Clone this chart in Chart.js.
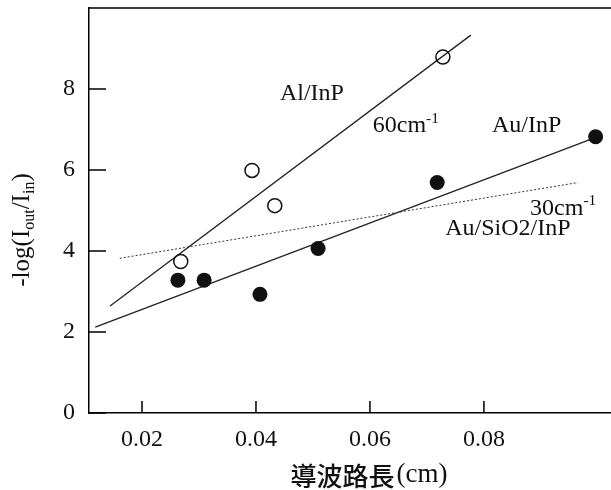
<!DOCTYPE html>
<html>
<head>
<meta charset="utf-8">
<script src="https://cdn.jsdelivr.net/npm/chart.js@4.4.0/dist/chart.umd.min.js"></script>
<style>
html, body { margin: 0; padding: 0; background: #fff; }
</style>
</head>
<body>
<canvas id="chart" width="611" height="490"></canvas>
<script>
// waveguide length (cm) vs -log(Iout/Iin)
var alLength = [0.0268, 0.0393, 0.0433, 0.0728];
var alLoss = [3.74, 5.99, 5.12, 8.79];
var auLength = [0.0263, 0.0309, 0.0407, 0.0509, 0.0718, 0.0996];
var auLoss = [3.28, 3.28, 2.93, 4.06, 5.69, 6.82];

// fitted lines, end points
var alFitX = [0.0144, 0.0777];
var alFitY = [2.64, 9.33];
var auFitX = [0.0118, 0.0986];
var auFitY = [2.12, 6.75];
var sioFitX = [0.0161, 0.0965];
var sioFitY = [3.82, 5.69];

var xTicks = [0.02, 0.04, 0.06, 0.08];
var yTicks = [0, 2, 4, 6, 8];

var serif = "'Liberation Serif', 'Times New Roman', serif";
var cjk = "'Noto Sans CJK JP', 'Noto Sans CJK SC', sans-serif";

function pts(xs, ys) {
    return xs.map(function (x, i) { return {x: x, y: ys[i]}; });
}

// text with sub/superscripts, left aligned at x, middle at y
function richWidth(ctx, parts, size) {
    var w = 0;
    parts.forEach(function (p) {
        ctx.font = (p[1] ? size * 0.64 : size) + "px " + serif;
        w += ctx.measureText(p[0]).width;
    });
    return w;
}
function drawRich(ctx, parts, x, y, size) {
    var cx = x;
    parts.forEach(function (p) {
        var fs = p[1] ? size * 0.64 : size;
        var dy = p[1] === 'sub' ? size * 0.3 : (p[1] === 'sup' ? -size * 0.3 : 0);
        ctx.font = fs + "px " + serif;
        ctx.fillText(p[0], cx, y + dy);
        cx += ctx.measureText(p[0]).width;
    });
}

var notes = [
    {x: 0.0442, y: 7.88, parts: [["Al/InP"]]},
    {x: 0.0605, y: 7.09, parts: [["60cm"], ["-1", "sup"]]},
    {x: 0.0814, y: 7.09, parts: [["Au/InP"]]},
    {x: 0.0881, y: 5.05, parts: [["30cm"], ["-1", "sup"]]},
    {x: 0.0732, y: 4.56, parts: [["Au/SiO2/InP"]]}
];

var frame = {
    id: 'frame',
    afterDraw: function (chart) {
        var ctx = chart.ctx, a = chart.chartArea;
        var xs = chart.scales.x, ys = chart.scales.y;
        ctx.save();
        ctx.strokeStyle = '#000';
        ctx.lineWidth = 1.5;
        ctx.beginPath();
        ctx.moveTo(a.left, a.top);
        ctx.lineTo(a.right, a.top);
        yTicks.forEach(function (v) {
            var p = ys.getPixelForValue(v);
            ctx.moveTo(a.left, p);
            ctx.lineTo(a.left + 17, p);
        });
        xTicks.forEach(function (v) {
            var p = xs.getPixelForValue(v);
            ctx.moveTo(p, a.bottom);
            ctx.lineTo(p, a.bottom - 12);
        });
        ctx.stroke();

        ctx.fillStyle = '#111';
        ctx.textBaseline = 'middle';
        ctx.textAlign = 'left';
        notes.forEach(function (n) {
            drawRich(ctx, n.parts, xs.getPixelForValue(n.x), ys.getPixelForValue(n.y), 24);
        });

        // y title
        var yt = [["-log(I"], ["out", "sub"], ["/I"], ["in", "sub"], [")"]];
        ctx.save();
        ctx.translate(22, 230);
        ctx.rotate(-Math.PI / 2);
        drawRich(ctx, yt, -richWidth(ctx, yt, 25) / 2, 0, 25);
        ctx.restore();

        // x title
        ctx.font = "500 26px " + cjk;
        var w1 = ctx.measureText("導波路長").width;
        ctx.font = "27px " + serif;
        var w2 = ctx.measureText("(cm)").width;
        var x0 = (a.left + a.right) / 2 + 19 - (w1 + 2 + w2) / 2;
        ctx.font = "500 26px " + cjk;
        ctx.fillText("導波路長", x0, 476);
        ctx.font = "27px " + serif;
        ctx.fillText("(cm)", x0 + w1 + 2, 475);
        ctx.restore();
    }
};

var ctx = document.getElementById("chart");
var lossChart = new Chart(ctx, {
    type: 'scatter',
    data: {
        datasets: [{
            label: 'Al/InP',
            data: pts(alLength, alLoss),
            pointRadius: 7,
            pointBackgroundColor: 'rgba(0,0,0,0)',
            pointBorderColor: '#111',
            pointBorderWidth: 1.5
        }, {
            label: 'Au/InP',
            data: pts(auLength, auLoss),
            pointRadius: 7.5,
            pointBackgroundColor: '#111',
            pointBorderColor: '#111',
            pointBorderWidth: 0
        }, {
            type: 'line',
            label: 'Al/InP fit',
            data: pts(alFitX, alFitY),
            borderColor: '#222',
            borderWidth: 1.3,
            pointRadius: 0
        }, {
            type: 'line',
            label: 'Au/InP fit',
            data: pts(auFitX, auFitY),
            borderColor: '#222',
            borderWidth: 1.3,
            pointRadius: 0
        }, {
            type: 'line',
            label: 'Au/SiO2/InP fit',
            data: pts(sioFitX, sioFitY),
            borderColor: '#333',
            borderWidth: 1,
            borderDash: [2, 2],
            pointRadius: 0
        }]
    },
    options: {
        responsive: false,
        animation: false,
        devicePixelRatio: 1,
        layout: {autoPadding: false, padding: {top: 8, left: 0, right: 0, bottom: 0}},
        plugins: {legend: {display: false}, tooltip: {enabled: false}},
        scales: {
            x: {
                type: 'linear',
                min: 0.0107,
                max: 0.1023,
                afterBuildTicks: function (s) {
                    s.ticks = xTicks.map(function (v) { return {value: v}; });
                },
                afterFit: function (s) {
                    s.height = 77;
                    s.paddingLeft = 0;
                    s.paddingRight = 0;
                },
                grid: {display: false, drawTicks: false},
                border: {display: true, color: '#000', width: 1.5},
                ticks: {
                    padding: 12,
                    color: '#111',
                    maxRotation: 0,
                    font: {family: serif, size: 24},
                    callback: function (v) { return v.toFixed(2); }
                }
            },
            y: {
                type: 'linear',
                min: 0,
                max: 10,
                afterBuildTicks: function (s) {
                    s.ticks = yTicks.map(function (v) { return {value: v}; });
                },
                afterFit: function (s) {
                    s.width = 89;
                    s.paddingTop = 0;
                    s.paddingBottom = 0;
                },
                grid: {display: false, drawTicks: false},
                border: {display: true, color: '#000', width: 1.5},
                ticks: {
                    padding: 14,
                    color: '#111',
                    font: {family: serif, size: 24},
                    callback: function (v) { return String(v); }
                }
            }
        }
    },
    plugins: [frame]
});
</script>
</body>
</html>
